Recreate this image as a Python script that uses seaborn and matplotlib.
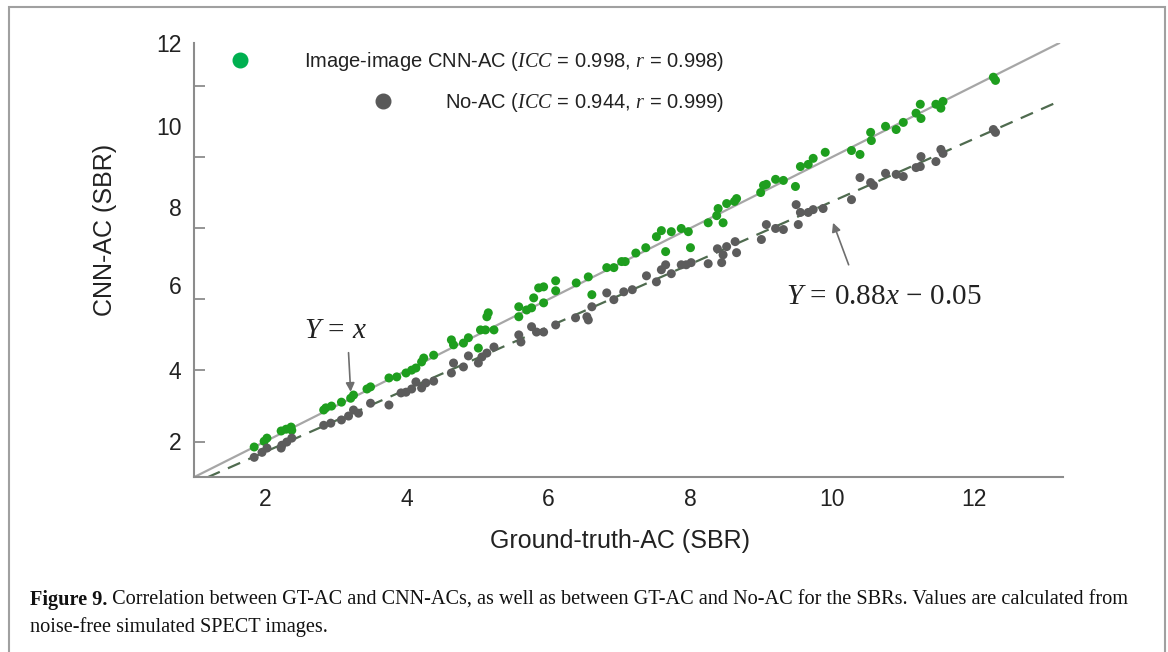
import numpy as np
import pandas as pd
import matplotlib
matplotlib.use('Agg')
import matplotlib.pyplot as plt
import seaborn as sns
from matplotlib.lines import Line2D
from matplotlib.patches import Rectangle

# ground truth SBR vs CNN-AC SBR (green points)
gt_cnn = [1.85, 1.99, 2.03, 2.23, 2.30, 2.37, 2.38, 2.83, 2.86, 2.94, 3.08, 3.21, 3.25,
          3.44, 3.49, 3.75, 3.86, 3.99, 4.07, 4.13, 4.21, 4.24, 4.38, 4.63, 4.66, 4.80,
          4.87, 5.01, 5.04, 5.11, 5.13, 5.15, 5.23, 5.58, 5.58, 5.69, 5.76, 5.79, 5.86,
          5.93, 5.93, 6.10, 6.10, 6.39, 6.56, 6.61, 6.82, 6.92, 7.03, 7.08, 7.23, 7.37,
          7.52, 7.59, 7.65, 7.73, 7.87, 7.97, 8.00, 8.25, 8.37, 8.39, 8.46, 8.51, 8.62,
          8.65, 8.99, 9.03, 9.07, 9.20, 9.31, 9.48, 9.55, 9.66, 9.73, 9.90, 10.27, 10.39,
          10.54, 10.55, 10.75, 10.90, 11.00, 11.18, 11.24, 11.25, 11.46, 11.53, 11.56,
          12.27, 12.30]
cnn_ac = [1.85, 2.01, 2.10, 2.30, 2.35, 2.41, 2.32, 2.89, 2.95, 3.00, 3.11, 3.22, 3.31,
          3.48, 3.54, 3.79, 3.82, 3.93, 4.01, 4.07, 4.24, 4.35, 4.43, 4.86, 4.72, 4.77,
          4.92, 4.63, 5.14, 5.14, 5.51, 5.62, 5.14, 5.51, 5.79, 5.70, 5.76, 6.04, 6.32,
          6.35, 5.90, 6.52, 6.24, 6.46, 6.63, 6.13, 6.89, 6.89, 7.06, 7.06, 7.30, 7.45,
          7.76, 7.93, 7.34, 7.90, 7.99, 7.90, 7.45, 8.15, 8.35, 8.55, 8.15, 8.69, 8.75,
          8.83, 9.00, 9.20, 9.23, 9.37, 9.34, 9.17, 9.73, 9.79, 9.96, 10.13, 10.18, 10.07,
          10.69, 10.46, 10.86, 10.77, 10.97, 11.23, 11.48, 11.08, 11.48, 11.37, 11.56,
          12.24, 12.15]

# ground truth SBR vs No-AC SBR (grey points)
gt_noac = [1.85, 1.96, 2.03, 2.23, 2.24, 2.31, 2.38, 2.83, 2.93, 3.08, 3.18, 3.25, 3.32,
           3.49, 3.75, 3.92, 3.99, 4.07, 4.13, 4.21, 4.27, 4.38, 4.63, 4.66, 4.80, 4.87,
           5.01, 5.06, 5.13, 5.23, 5.58, 5.61, 5.76, 5.83, 5.93, 6.10, 6.38, 6.54, 6.56,
           6.61, 6.82, 6.92, 7.06, 7.18, 7.38, 7.52, 7.59, 7.65, 7.73, 7.87, 7.94, 8.01,
           8.25, 8.38, 8.44, 8.46, 8.51, 8.63, 8.65, 9.00, 9.07, 9.20, 9.31, 9.49, 9.52,
           9.55, 9.66, 9.73, 9.87, 10.27, 10.39, 10.54, 10.58, 10.75, 10.90, 11.00, 11.18,
           11.24, 11.25, 11.46, 11.53, 11.56, 12.27, 12.30]
no_ac = [1.56, 1.70, 1.82, 1.82, 1.90, 1.99, 2.10, 2.46, 2.52, 2.61, 2.72, 2.89, 2.80,
         3.08, 3.03, 3.37, 3.39, 3.48, 3.68, 3.51, 3.65, 3.70, 3.93, 4.21, 4.10, 4.41,
         4.21, 4.38, 4.49, 4.66, 5.00, 4.80, 5.23, 5.08, 5.08, 5.28, 5.48, 5.51, 5.42,
         5.79, 6.18, 5.99, 6.21, 6.27, 6.66, 6.49, 6.83, 6.97, 6.72, 6.97, 6.97, 7.03,
         7.00, 7.42, 7.03, 7.25, 7.48, 7.62, 7.31, 7.68, 8.10, 7.99, 7.96, 8.66, 8.10,
         8.44, 8.44, 8.52, 8.55, 8.80, 9.42, 9.28, 9.20, 9.54, 9.51, 9.45, 9.70, 9.73,
         10.01, 9.87, 10.21, 10.10, 10.77, 10.69]

legend_labels = ['Image-image CNN-AC ($ICC$ = 0.998, $r$ = 0.998)',
                 'No-AC ($ICC$ = 0.944, $r$ = 0.999)']
legend_colors = ['#00b050', '#595959']

fit_slope = 0.88
fit_intercept = -0.05

x_ticks = [2, 4, 6, 8, 10, 12]
y_ticks = [2, 4, 6, 8, 10, 12]
# the y labels in the original figure sit a little off their tick marks
y_label_pos = [2.01, 4.01, 6.41, 8.58, 10.86, 13.2]

caption_bold = 'Figure 9.'
caption_1 = (' Correlation between GT-AC and CNN-ACs, as well as between GT-AC and No-AC '
             'for the SBRs. Values are calculated from')
caption_2 = 'noise-free simulated SPECT images.'

df = pd.concat([
    pd.DataFrame({'gt': gt_cnn, 'val': cnn_ac, 'method': 'CNN-AC'}),
    pd.DataFrame({'gt': gt_noac, 'val': no_ac, 'method': 'No-AC'}),
])

sns.set_theme(style='white')
plt.rcParams['font.family'] = ['Liberation Sans', 'DejaVu Sans']
plt.rcParams['mathtext.fontset'] = 'custom'
plt.rcParams['mathtext.rm'] = 'Liberation Serif'
plt.rcParams['mathtext.it'] = 'Liberation Serif:italic'

fig = plt.figure(figsize=(11.68, 6.52), dpi=100)
ax = fig.add_axes([0.166, 0.268, 0.744, 0.666])

xmin, xmax = 1.0, 13.25
ymin, ymax = 1.0, 13.2

# Y = x and fitted line
lx = np.array([xmin, 13.2])
ax.plot(lx, lx, color='#a6a6a6', lw=1.6, zorder=1)
fx = np.array([(ymin - fit_intercept) / fit_slope, 13.2])
ax.plot(fx, fit_slope * fx + fit_intercept, color='#4f6b4f', lw=1.6,
        dashes=(6, 4), zorder=1)

sns.scatterplot(data=df, x='gt', y='val', hue='method', ax=ax,
                palette={'CNN-AC': '#1e9e1e', 'No-AC': '#5c5c5c'},
                s=42, linewidth=0, legend=False, zorder=3)

ax.set_xlim(xmin, xmax)
ax.set_ylim(ymin, ymax)
sns.despine(ax=ax)
for side in ['left', 'bottom']:
    ax.spines[side].set_color('#8c8c8c')
    ax.spines[side].set_linewidth(1.5)

ax.set_xticks(x_ticks)
ax.tick_params(axis='x', direction='in', length=8, width=1.3, color='#8c8c8c',
               labelsize=16.5, pad=8, labelcolor='#222222')
ax.set_yticks(y_label_pos, labels=[str(v) for v in y_ticks])
ax.set_yticks(y_ticks, minor=True)
ax.tick_params(axis='y', which='major', length=0, labelsize=16.5, pad=9,
               labelcolor='#222222')
ax.tick_params(axis='y', which='minor', direction='in', length=8, width=1.3,
               color='#8c8c8c', left=True)

ax.set_xlabel('Ground-truth-AC (SBR)', fontsize=18, color='#222222')
ax.set_ylabel('CNN-AC (SBR)', fontsize=18, color='#222222')
ax.xaxis.set_label_coords(0.49, -0.118)
ax.yaxis.set_label_coords(-0.088, 0.57)

# annotations
ax.text(3.0, 5.15, '$Y\\,=\\,x$', ha='center', va='center', fontsize=21,
        color='#222222')
ax.text(10.72, 6.1, '$Y\\,=\\,0.88x\\,-\\,0.05$', ha='center', va='center',
        fontsize=21, color='#222222')
arrow = dict(arrowstyle='-|>', color='#6e6e6e', lw=1.2, mutation_scale=13,
             shrinkA=0, shrinkB=0)
ax.annotate('', xy=(3.21, 3.4), xytext=(3.18, 4.5), arrowprops=arrow)
ax.annotate('', xy=(10.01, 8.15), xytext=(10.23, 6.97), arrowprops=arrow)

# legend rows are right aligned in the original, so one legend per row
leg_pads = [2.15, 2.05]
leg_tops = [50, 91]
for i, (lab, col, pad, top) in enumerate(zip(legend_labels, legend_colors,
                                             leg_pads, leg_tops)):
    h = Line2D([], [], ls='', marker='o', color=col, markersize=10.5)
    leg = ax.legend([h], [lab], loc='upper right', frameon=False,
                    bbox_to_anchor=(724 / 1168, 1 - top / 652),
                    bbox_transform=fig.transFigure, borderpad=0, borderaxespad=0,
                    fontsize=14.5, handletextpad=pad, labelcolor='#222222')
    if i < len(legend_labels) - 1:
        ax.add_artist(leg)

# border around the figure panel
fig.patches.append(Rectangle((9 / 1168, -0.02), 1156 / 1168, 1 - 7 / 652 + 0.02,
                             transform=fig.transFigure, fill=False,
                             edgecolor='#a0a0a0', lw=1.5, clip_on=False))

cap_font = ['Liberation Serif', 'DejaVu Serif']
t = fig.text(30 / 1168, 1 - 605 / 652, caption_bold, fontsize=14.6, fontweight='bold',
             family=cap_font, va='baseline', color='#111111')
fig.canvas.draw()
ax.annotate(caption_1, xy=(1, 0), xycoords=t, va='bottom', ha='left',
            fontsize=14.6, family=cap_font, color='#111111', annotation_clip=False)
fig.text(30 / 1168, 1 - 632 / 652, caption_2, fontsize=14.6, family=cap_font,
         va='baseline', color='#111111')

fig.savefig('out.png', dpi=100)
